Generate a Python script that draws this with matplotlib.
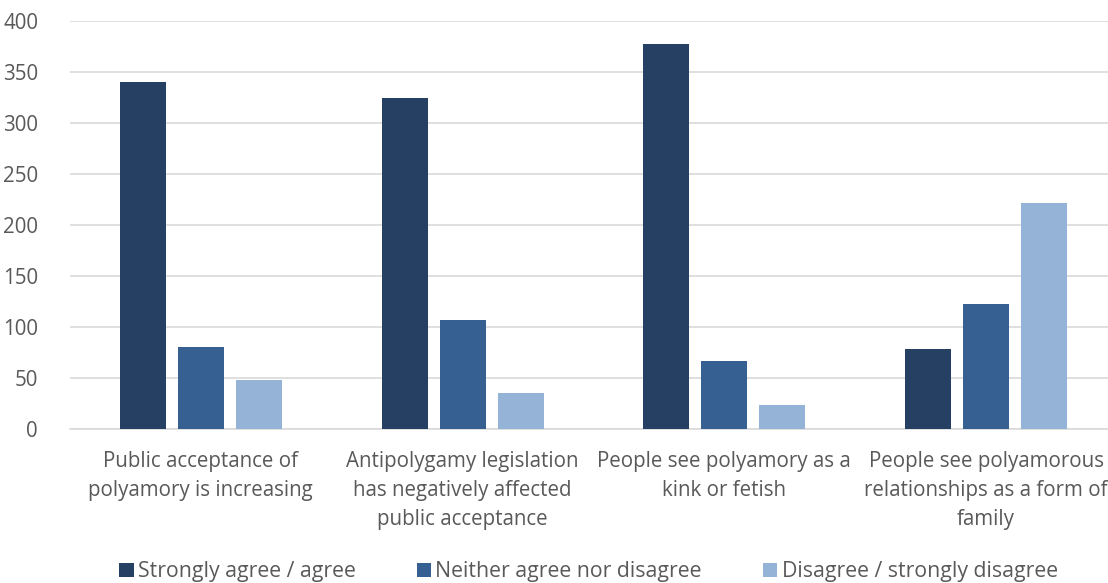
import matplotlib.pyplot as plt
import numpy as np

categories = ["Public acceptance of\npolyamory is increasing",
              "Antipolygamy legislation\nhas negatively affected\npublic acceptance",
              "People see polyamory as a\nkink or fetish",
              "People see polyamorous\nrelationships as a form of\nfamily"]
series = ["Strongly agree / agree", "Neither agree nor disagree", "Disagree / strongly disagree"]
agree = [340, 325, 377, 78]
neutral = [80, 107, 67, 123]
disagree = [48, 35, 24, 222]
colors = ["#264064", "#376092", "#95B3D7"]

plt.rcParams['font.family'] = ['Open Sans', 'DejaVu Sans']
text_col = "#595959"
fs = 14.8

fig = plt.figure(figsize=(11.08, 5.83), dpi=100)
ax = fig.add_axes([70 / 1108, 1 - 429 / 583, 1047 / 1108, 408 / 583])

x = np.arange(len(categories))
step = 0.2216
width = 0.176
for i, (vals, name) in enumerate(zip([agree, neutral, disagree], series)):
    ax.bar(x + (i - 1) * step, vals, width, color=colors[i], label=name, zorder=3)

ax.set_xlim(-0.5, 3.5)
ax.set_ylim(0, 400)
ax.set_yticks(range(0, 401, 50))
ax.yaxis.grid(True, color="#D9D9D9", linewidth=1.2, zorder=0)
for s in ["top", "right", "left"]:
    ax.spines[s].set_visible(False)
ax.spines["bottom"].set_color("#D9D9D9")
ax.spines["bottom"].set_linewidth(1.2)
ax.tick_params(axis="both", length=0, colors=text_col, labelsize=fs)
ax.tick_params(axis="y", pad=23)
ax.tick_params(axis="x", pad=16)
ax.set_xticks(x)
ax.set_xticklabels(categories, linespacing=1.5)
for lab in ax.get_yticklabels():
    lab.set_horizontalalignment("right")

leg = fig.legend(loc="center", bbox_to_anchor=(0.531, 0.019), ncol=3, frameon=False,
                 fontsize=15.3, handlelength=0.68, handleheight=0.68, handletextpad=0.2,
                 columnspacing=2.87, labelcolor=text_col)

fig.savefig("out.png", dpi=100)
